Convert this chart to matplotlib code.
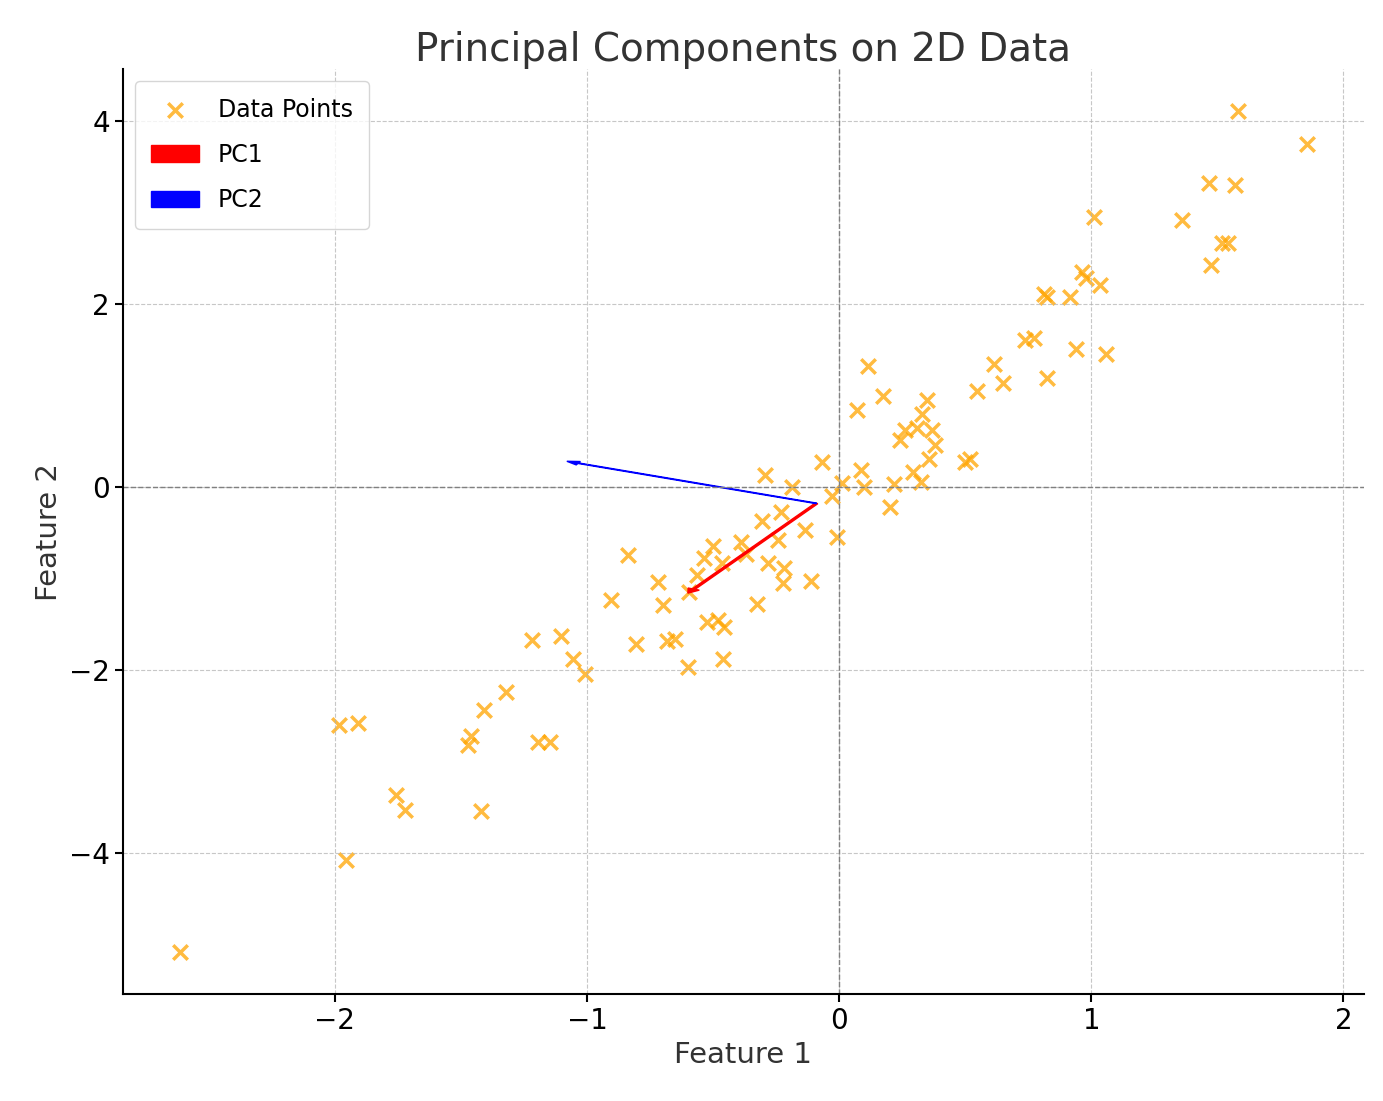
import matplotlib.pyplot as plt
import numpy as np

# data
feature1 = [-2.615, -1.956, -1.984, -1.909, -1.758, -1.722, -1.472, -1.460, -1.409, -1.321,
            -1.421, -1.218, -1.194, -1.147, -1.103, -1.056, -1.008, -0.905, -0.837, -0.806,
            -0.718, -0.698, -0.683, -0.651, -0.599, -0.595, -0.563, -0.536, -0.524, -0.500,
            -0.480, -0.464, -0.460, -0.456, -0.389, -0.369, -0.325, -0.306, -0.294, -0.282,
            -0.242, -0.230, -0.222, -0.218, -0.187, -0.135, -0.111, -0.067, -0.028, -0.008,
            0.012, 0.071, 0.087, 0.099, 0.115, 0.175, 0.202, 0.218, 0.242, 0.262,
            0.294, 0.310, 0.325, 0.329, 0.349, 0.357, 0.369, 0.381, 0.500, 0.520,
            0.548, 0.615, 0.651, 0.738, 0.774, 0.813, 0.825, 0.825, 0.917, 0.940,
            0.964, 0.980, 1.012, 1.036, 1.060, 1.361, 1.476, 1.468, 1.520, 1.544,
            1.571, 1.583, 1.857]
feature2 = [-5.08, -4.07, -2.60, -2.58, -3.37, -3.53, -2.82, -2.72, -2.44, -2.24,
            -3.54, -1.67, -2.79, -2.79, -1.63, -1.88, -2.04, -1.23, -0.74, -1.72,
            -1.04, -1.29, -1.68, -1.66, -1.97, -1.15, -0.96, -0.78, -1.48, -0.64,
            -1.45, -0.83, -1.88, -1.53, -0.60, -0.73, -1.28, -0.37, 0.13, -0.83,
            -0.58, -0.27, -1.05, -0.89, 0.00, -0.47, -1.03, 0.27, -0.10, -0.55,
            0.04, 0.84, 0.19, 0.00, 1.32, 0.99, -0.22, 0.03, 0.51, 0.62,
            0.16, 0.64, 0.05, 0.80, 0.95, 0.30, 0.62, 0.46, 0.27, 0.30,
            1.05, 1.34, 1.13, 1.60, 1.63, 2.11, 1.19, 2.07, 2.07, 1.51,
            2.35, 2.28, 2.95, 2.21, 1.45, 2.92, 2.42, 3.32, 2.66, 2.66,
            3.30, 4.11, 3.74]
origin = (-0.09, -0.18)
pc1 = (-0.51, -0.98)
pc2 = (-0.99, 0.46)

fig, ax = plt.subplots(figsize=(13.83, 11.01), dpi=100)
ax.scatter(feature1, feature2, marker='x', color='orange', alpha=0.75, s=110,
           linewidths=2.5, label='Data Points')
ax.arrow(origin[0], origin[1], pc1[0], pc1[1], color='red', width=0.012,
         head_width=0.05, head_length=0.05, length_includes_head=True, label='PC1')
ax.arrow(origin[0], origin[1], pc2[0], pc2[1], color='blue', width=0.006,
         head_width=0.04, head_length=0.05, length_includes_head=True, label='PC2')
ax.axhline(0, color='gray', lw=1, ls='--')
ax.axvline(0, color='gray', lw=1, ls='--')
ax.grid(True, ls='--', alpha=0.7)
ax.set_xlim(-2.84, 2.08)
ax.set_ylim(-5.54, 4.56)
ax.spines['top'].set_visible(False)
ax.spines['right'].set_visible(False)
ax.spines['left'].set_linewidth(1.5)
ax.spines['bottom'].set_linewidth(1.5)
ax.tick_params(labelsize=20, width=1.5, length=6)
ax.set_title('Principal Components on 2D Data', fontsize=28, color='#333333')
ax.set_xlabel('Feature 1', fontsize=21, color='#333333')
ax.set_ylabel('Feature 2', fontsize=21, color='#333333')
ax.legend(loc='upper left', fontsize=17, borderpad=0.7, labelspacing=0.9)
plt.subplots_adjust(left=0.089, right=0.986, bottom=0.097, top=0.937)
plt.savefig('out.png')
